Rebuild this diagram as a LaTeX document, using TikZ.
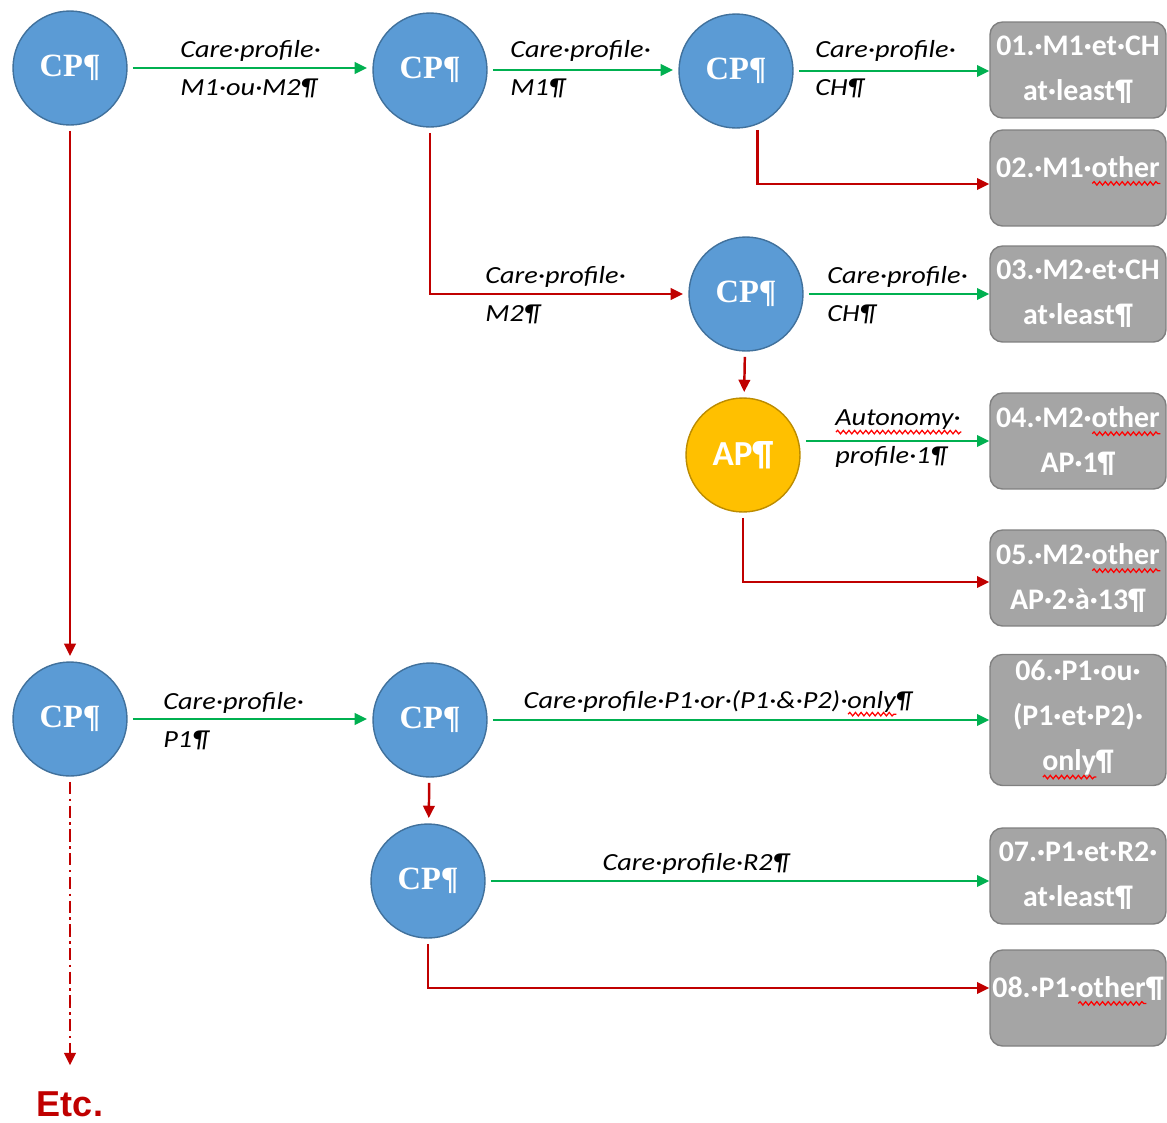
\documentclass[tikz,border=0pt]{standalone}
\usepackage{fontspec}
\setmainfont{Carlito}
\newfontfamily\cpfont{Liberation Serif}
\newfontfamily\etcfont{Liberation Sans}
\newfontfamily\lblfont{Carlito}[FakeStretch=1.15]
\usetikzlibrary{arrows.meta,decorations.pathmorphing}

\definecolor{cpblue}{HTML}{5B9BD5}
\definecolor{cpedge}{HTML}{41719C}
\definecolor{apgold}{HTML}{FFC000}
\definecolor{apedge}{HTML}{BC8C00}
\definecolor{boxgray}{HTML}{A5A5A5}
\definecolor{boxedge}{HTML}{808080}
\definecolor{okgreen}{HTML}{00B050}
\definecolor{nored}{HTML}{C00000}

\newsavebox{\squigbox}
\newcommand{\squig}[1]{\sbox{\squigbox}{#1}\rlap{\raisebox{-3.5pt}{\tikz[baseline=0pt]\draw[red, sharp corners, line width=0.7pt, decorate, decoration={snake, amplitude=1pt, segment length=3.2pt}] (0pt, 0pt) -- (\wd\squigbox, 0pt);}}\usebox{\squigbox}}

\begin{document}
\begin{tikzpicture}[x=0.02cm, y=-0.02cm,
		cpnode/.style={circle, fill=cpblue, draw=cpedge, line width=0.8pt, minimum size=2.28cm, inner sep=0pt, text=white, font=\cpfont\bfseries\fontsize{18.5}{20}\selectfont},
		apnode/.style={cpnode, fill=apgold, draw=apedge, font=\bfseries\fontsize{20}{22}\selectfont},
		outbox/.style={rectangle, rounded corners=0.25cm, fill=boxgray, draw=boxedge, line width=0.8pt, minimum width=3.52cm, minimum height=1.92cm, inner xsep=0pt, text=white, align=center, font=\bfseries\fontsize{17}{25.6}\selectfont},
		greenarrow/.style={draw=okgreen, line width=1.4pt, -{Triangle[length=7pt, width=6.5pt]}, shorten <=3pt, shorten >=3pt},
		redarrow/.style={greenarrow, draw=nored},
		boxarrow/.style={shorten >=0pt},
		lbl/.style={anchor=west, align=left, inner sep=0pt, font=\lblfont\itshape\fontsize{14}{21.6}\selectfont}]
		\useasboundingbox (0, 0) rectangle (1167, 1123);
		\clip (0, 0) rectangle (1167, 1123);
		
		\node[cpnode] (cp1) at (70, 68) {CP¶};
		\node[cpnode] (cp2) at (430, 70) {CP¶};
		\node[cpnode] (cp3) at (736, 71) {CP¶};
		\node[cpnode] (cp4) at (746, 294) {CP¶};
		\node[apnode] (ap) at (743, 455) {AP¶};
		\node[cpnode] (cp5) at (70, 719) {CP¶};
		\node[cpnode] (cp6) at (430, 720) {CP¶};
		\node[cpnode] (cp7) at (428, 881) {CP¶};
		
		\node[outbox] (b1) at (1078, 70) {01.·M1·et·CH\\at·least¶};
		\node[outbox] (b2) at (1078, 178) {02.·M1·\squig{other}\\[-0.45cm]\mbox{}};
		\node[outbox] (b3) at (1078, 294) {03.·M2·et·CH\\at·least¶};
		\node[outbox] (b4) at (1078, 441) {04.·M2·\squig{other}\\AP·1¶};
		\node[outbox] (b5) at (1078, 578) {05.·M2·\squig{other}\\AP·2·à·13¶};
		\node[outbox, minimum height=2.62cm] (b6) at (1078, 720) {06.·P1·ou·\\(P1·et·P2)·\\\squig{only}¶};
		\node[outbox] (b7) at (1078, 876) {07.·P1·et·R2·\\at·least¶};
		\node[outbox] (b8) at (1078, 998) {08.·P1·\squig{other}¶\\[-0.45cm]\mbox{}};
		
		\node[text=nored, font=\etcfont\bfseries\fontsize{20.5}{22}\selectfont] (etc) at (70, 1104) {Etc.};
		
		\draw[greenarrow] (cp1) -- (cp1 -| cp2.west);
		\draw[greenarrow] (cp2) -- (cp2 -| cp3.west);
		\draw[greenarrow, boxarrow] (cp3) -- (cp3 -| b1.west);
		\draw[redarrow, boxarrow] (cp3.-68) |- ([yshift=-0.12cm]b2.west);
		\draw[redarrow] (cp2) |- (cp4);
		\draw[greenarrow, boxarrow] (cp4) -- (cp4 -| b3.west);
		\draw[redarrow] (cp4) -- (ap);
		\draw[greenarrow, boxarrow] (ap.east |- b4) -- (b4);
		\draw[redarrow, boxarrow] (ap) |- ([yshift=-0.08cm]b5.west);
		\draw[redarrow] (cp1) -- (cp5);
		\draw[greenarrow] (cp5) -- (cp5 -| cp6.west);
		\draw[greenarrow, boxarrow] (cp6) -- (cp6 -| b6.west);
		\draw[redarrow] (cp6) -- (cp7);
		\draw[greenarrow, boxarrow] (cp7) -- (cp7 -| b7.west);
		\draw[redarrow, boxarrow] (cp7) |- ([yshift=0.2cm]b8.west);
		\draw[redarrow, dash pattern=on 7pt off 2.5pt on 1.5pt off 2.5pt, shorten >=0.4cm] (cp5) -- (etc);
		
		\node[lbl] (l1) at (180, 69) {Care·profile·\\M1·ou·M2¶};
		\node[lbl] (l2) at (510, 69) {Care·profile·\\M1¶};
		\node[lbl] (l3) at (815, 69) {Care·profile·\\CH¶};
		\node[lbl] (l4) at (485, 295) {Care·profile·\\M2¶};
		\node[lbl] (l5) at (827, 295) {Care·profile·\\CH¶};
		\node[lbl] (l6) at (835, 439) {\squig{Autonomy·}\\profile·1¶};
		\node[lbl] (l7) at (163, 721) {Care·profile·\\P1¶};
		\node[lbl, anchor=base] (l8) at (718, 708) {Care·profile·P1·or·(P1·\&·P2)·\squig{only}¶};
		\node[lbl, anchor=base] (l9) at (696, 870) {Care·profile·R2¶};
	\end{tikzpicture}
\end{document}
